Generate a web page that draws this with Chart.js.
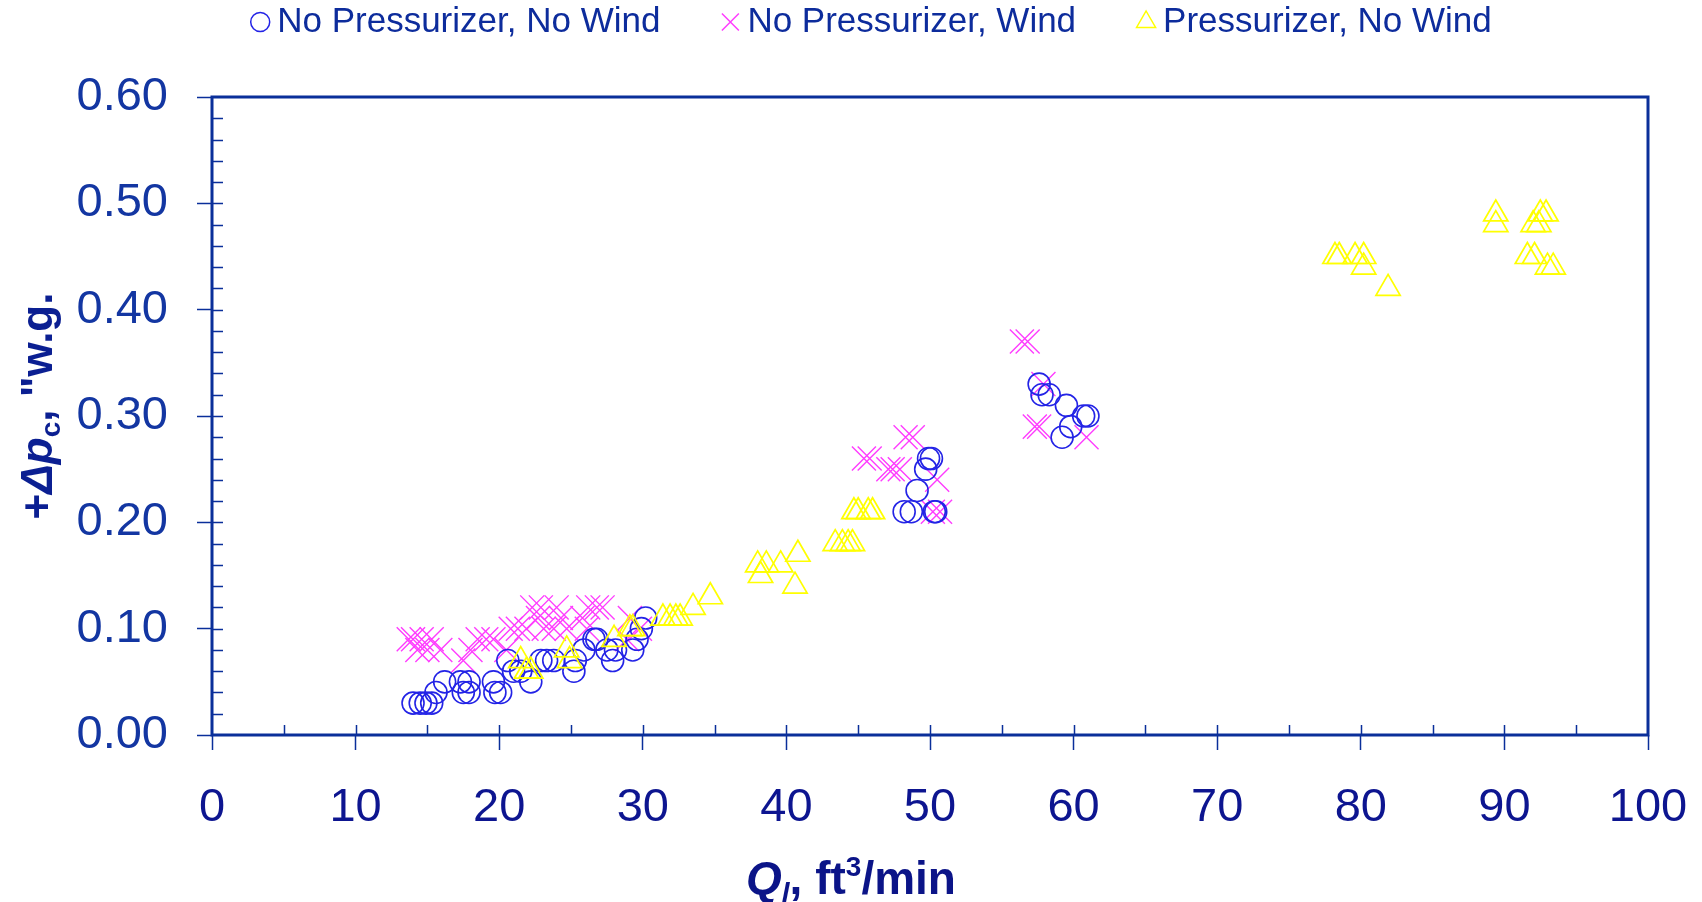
<!DOCTYPE html>
<html>
<head>
<meta charset="utf-8">
<script src="https://cdn.jsdelivr.net/npm/chart.js"></script>
<style>
  html, body { margin: 0; padding: 0; background: #fff; }
  #wrap { width: 1702px; height: 902px; }
</style>
</head>
<body>
<div id="wrap"><canvas id="leakChart" width="1702" height="902"></canvas></div>
<script>
// series names
let seriesNames = [`No Pressurizer, No Wind`, `No Pressurizer, Wind`, `Pressurizer, No Wind`]

// No Pressurizer, No Wind (circles)
let noPressNoWindQ = [
    14.0, 14.5, 14.9, 15.3, 15.6, 16.2, 17.3, 17.5, 17.9, 17.9,
    19.6, 19.7, 20.1, 20.6, 21.0, 22.2, 21.5, 22.9, 23.3, 23.8,
    25.2, 25.3, 25.9, 26.6, 26.8, 27.5, 27.9, 28.1, 29.3, 29.6, 29.9, 30.2,
    48.2, 48.7, 49.1, 49.7, 49.9, 50.1, 50.4, 50.3,
    57.6, 57.8, 58.3, 59.5, 59.2, 59.8, 60.7, 61.0
]
let noPressNoWindDp = [
    0.03, 0.03, 0.03, 0.03, 0.04, 0.05, 0.05, 0.04, 0.05, 0.04,
    0.05, 0.04, 0.04, 0.07, 0.06, 0.05, 0.06, 0.07, 0.07, 0.07,
    0.06, 0.07, 0.08, 0.09, 0.09, 0.08, 0.07, 0.08, 0.08, 0.09, 0.10, 0.11,
    0.21, 0.21, 0.23, 0.25, 0.26, 0.26, 0.21, 0.21,
    0.33, 0.32, 0.32, 0.31, 0.28, 0.29, 0.30, 0.30
]

// No Pressurizer, Wind (crosses)
let noPressWindQ = [
    13.7, 14.0, 14.3, 14.6, 15.0, 15.3, 15.9, 17.5, 18.0, 18.5,
    19.1, 19.6, 20.5, 20.8, 21.3, 21.9, 22.3, 22.7, 22.9, 23.1,
    23.8, 24.0, 24.3, 24.7, 25.8, 26.1, 26.2, 26.8, 27.2, 28.9, 29.1, 29.8,
    45.4, 45.8, 47.1, 47.4, 47.9, 48.3, 48.8, 50.5, 50.2, 50.7,
    56.4, 56.8, 57.3, 57.6, 57.9, 60.9
]
let noPressWindDp = [
    0.09, 0.09, 0.08, 0.09, 0.08, 0.09, 0.08, 0.07, 0.08, 0.09,
    0.09, 0.09, 0.08, 0.10, 0.10, 0.10, 0.12, 0.11, 0.12, 0.10,
    0.10, 0.12, 0.11, 0.10, 0.11, 0.10, 0.12, 0.12, 0.12, 0.09, 0.11, 0.10,
    0.26, 0.26, 0.25, 0.25, 0.25, 0.28, 0.28, 0.24, 0.21, 0.21,
    0.37, 0.37, 0.29, 0.29, 0.33, 0.28
]

// Pressurizer, No Wind (triangles)
let pressNoWindQ = [
    21.5, 21.9, 22.2, 24.7, 24.9,
    28.0, 29.1, 29.3, 31.4, 31.9, 32.3, 32.6, 33.5, 34.7,
    38.0, 38.2, 38.6, 39.6, 40.8, 40.6,
    43.4, 43.9, 44.3, 44.6, 44.7, 45.0, 45.7, 46.0,
    78.2, 78.5, 79.6, 80.2, 80.2, 81.9,
    89.4, 89.4, 92.0, 92.4, 92.5, 92.9, 91.6, 92.1, 93.0, 93.4
]
let pressNoWindDp = [
    0.07, 0.06, 0.06, 0.08, 0.07,
    0.09, 0.10, 0.10, 0.11, 0.11, 0.11, 0.11, 0.12, 0.13,
    0.16, 0.15, 0.16, 0.16, 0.17, 0.14,
    0.18, 0.18, 0.18, 0.18, 0.21, 0.21, 0.21, 0.21,
    0.45, 0.45, 0.45, 0.45, 0.44, 0.42,
    0.49, 0.48, 0.48, 0.48, 0.49, 0.49, 0.45, 0.45, 0.44, 0.44
]

let xTicks = [0, 10, 20, 30, 40, 50, 60, 70, 80, 90, 100]
let yTicks = [0, 0.1, 0.2, 0.3, 0.4, 0.5, 0.6]

const navy = `#0a2f9a`
const blueMark = `#2323e6`
const pinkMark = `#ff3cff`
const yellowMark = `#ffff00`

function toPoints(xs, ys) {
    return xs.map((x, i) => {
        return {x: x, y: ys[i]}
    })
}

function drawMarker(ctx, style, x, y, r, color, lw) {
    ctx.save()
    ctx.strokeStyle = color
    ctx.lineWidth = lw
    ctx.beginPath()
    if (style === `circle`) {
        ctx.arc(x, y, r, 0, Math.PI * 2)
    } else if (style === `crossRot`) {
        const o = r * Math.SQRT1_2
        ctx.moveTo(x - o, y - o); ctx.lineTo(x + o, y + o)
        ctx.moveTo(x + o, y - o); ctx.lineTo(x - o, y + o)
    } else {
        ctx.moveTo(x, y - r)
        ctx.lineTo(x + r * 0.866, y + r * 0.5)
        ctx.lineTo(x - r * 0.866, y + r * 0.5)
        ctx.closePath()
    }
    ctx.stroke()
    ctx.restore()
}

// draws text pieces with mixed fonts, returns width if dryRun
function drawRich(ctx, parts, x, y, dryRun) {
    let w = 0
    parts.forEach((p) => {
        ctx.font = p.font
        if (!dryRun) ctx.fillText(p.t, x + w, y + (p.dy || 0))
        w += ctx.measureText(p.t).width
    })
    return w
}

const decorPlugin = {
    id: `decor`,
    afterDraw(chart) {
        const ctx = chart.ctx
        const a = chart.chartArea
        const xs = chart.scales.x
        const ys = chart.scales.y

        // minor ticks inside the frame
        ctx.save()
        ctx.strokeStyle = navy
        ctx.lineWidth = 1.5
        ctx.beginPath()
        for (let v = 0.02; v < 0.6; v += 0.02) {
            const py = Math.round(ys.getPixelForValue(v)) + 0.5
            ctx.moveTo(a.left, py); ctx.lineTo(a.left + 11, py)
        }
        for (let v = 5; v < 100; v += 5) {
            const px = Math.round(xs.getPixelForValue(v)) + 0.5
            ctx.moveTo(px, a.bottom); ctx.lineTo(px, a.bottom - 10)
        }
        ctx.stroke()

        // frame
        ctx.lineWidth = 3
        ctx.strokeRect(a.left, a.top, a.right - a.left, a.bottom - a.top)
        ctx.restore()

        // legend
        ctx.save()
        const lf = `35px "Liberation Sans", Arial, sans-serif`
        ctx.font = lf
        ctx.textBaseline = `middle`
        const styles = [`circle`, `crossRot`, `triangle`]
        const colors = [blueMark, pinkMark, yellowMark]
        const sizes = [9.5, 12, 11]
        const markGap = 17
        const itemGap = 70
        const widths = seriesNames.map((n) => ctx.measureText(n).width)
        let total = widths.reduce((s, w) => s + w + markGap, 0) + itemGap * 2 + 10
        let cx = 871 - total / 2 + 10
        const ly = 22
        seriesNames.forEach((n, i) => {
            drawMarker(ctx, styles[i], cx, ly, sizes[i], colors[i], 1.5)
            ctx.fillStyle = `#0d2c9c`
            ctx.fillText(n, cx + markGap, ly)
            cx += markGap + widths[i] + itemGap
        })
        ctx.restore()

        // x axis title
        ctx.save()
        ctx.fillStyle = `#0b1488`
        ctx.textBaseline = `alphabetic`
        const bf = `bold 46px "Liberation Sans", Arial, sans-serif`
        const bi = `italic bold 46px "Liberation Sans", Arial, sans-serif`
        const sm = `italic bold 28px "Liberation Sans", Arial, sans-serif`
        const sp = `bold 28px "Liberation Sans", Arial, sans-serif`
        const xParts = [
            {t: `Q`, font: bi},
            {t: `l`, font: sm, dy: 8},
            {t: `, ft`, font: bf},
            {t: `3`, font: sp, dy: -18},
            {t: `/min`, font: bf}
        ]
        const xw = drawRich(ctx, xParts, 0, 0, true)
        drawRich(ctx, xParts, 851 - xw / 2, 894, false)
        ctx.restore()

        // y axis title
        ctx.save()
        ctx.fillStyle = `#0b1f92`
        ctx.textBaseline = `alphabetic`
        ctx.translate(52, 406)
        ctx.rotate(-Math.PI / 2)
        const yb = `bold 44px "Liberation Sans", Arial, sans-serif`
        const yi = `italic bold 44px "Liberation Sans", Arial, sans-serif`
        const yParts = [
            {t: `+`, font: yb},
            {t: `Δ`, font: yi},
            {t: `p`, font: yi},
            {t: `c`, font: `bold 28px "Liberation Sans", Arial, sans-serif`, dy: 8},
            {t: `, "w.g.`, font: yb}
        ]
        const yw = drawRich(ctx, yParts, 0, 0, true)
        drawRich(ctx, yParts, -yw / 2, 0, false)
        ctx.restore()
    }
}

function leakChart() {
    const ctx = document.getElementById(`leakChart`)

    new Chart(ctx, {
        type: `scatter`,
        data: {
            datasets: [{
                label: seriesNames[0],
                data: toPoints(noPressNoWindQ, noPressNoWindDp),
                pointStyle: `circle`,
                pointRadius: 11,
                pointBorderWidth: 1.6,
                borderColor: blueMark,
                backgroundColor: `rgba(0,0,0,0)`,
                order: 1
            }, {
                label: seriesNames[1],
                data: toPoints(noPressWindQ, noPressWindDp),
                pointStyle: `crossRot`,
                pointRadius: 17,
                pointBorderWidth: 1.4,
                borderColor: pinkMark,
                backgroundColor: pinkMark,
                order: 2
            }, {
                label: seriesNames[2],
                data: toPoints(pressNoWindQ, pressNoWindDp),
                pointStyle: `triangle`,
                pointRadius: 14,
                pointBorderWidth: 1.7,
                borderColor: yellowMark,
                backgroundColor: `rgba(0,0,0,0)`,
                order: 0
            }]
        },
        options: {
            responsive: false,
            animation: false,
            devicePixelRatio: 1,
            layout: {
                padding: {top: 97, right: 54, left: 0, bottom: 0}
            },
            plugins: {
                legend: {display: false},
                tooltip: {enabled: false}
            },
            scales: {
                x: {
                    type: `linear`,
                    min: xTicks[0],
                    max: xTicks[xTicks.length - 1],
                    afterBuildTicks: (s) => { s.ticks = xTicks.map((v) => ({value: v})) },
                    afterFit: (s) => {
                        s.height = 167
                        s.paddingLeft = 0
                        s.paddingRight = 0
                    },
                    border: {display: false},
                    grid: {
                        drawOnChartArea: false,
                        drawTicks: true,
                        tickLength: 15,
                        tickColor: navy,
                        tickWidth: 1.5
                    },
                    ticks: {
                        color: `#0d1590`,
                        padding: 30,
                        maxRotation: 0,
                        font: {family: `"Liberation Sans", Arial, sans-serif`, size: 47}
                    }
                },
                y: {
                    type: `linear`,
                    min: yTicks[0],
                    max: yTicks[yTicks.length - 1],
                    afterBuildTicks: (s) => { s.ticks = yTicks.map((v) => ({value: v})) },
                    afterFit: (s) => { s.width = 212 },
                    border: {display: false},
                    grid: {
                        drawOnChartArea: false,
                        drawTicks: true,
                        tickLength: 15,
                        tickColor: navy,
                        tickWidth: 1.5
                    },
                    ticks: {
                        color: `#1336a2`,
                        padding: 29,
                        callback: (v) => Number(v).toFixed(2),
                        font: {family: `"Liberation Sans", Arial, sans-serif`, size: 47}
                    }
                }
            }
        },
        plugins: [decorPlugin]
    })
}

leakChart()
</script>
</body>
</html>
